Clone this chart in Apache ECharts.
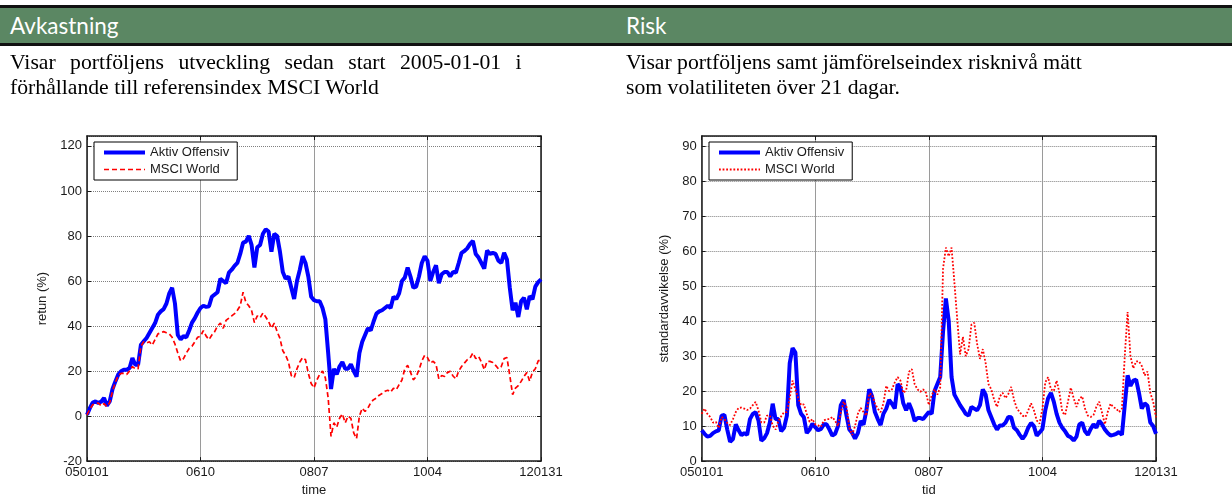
<!DOCTYPE html>
<html>
<head>
<meta charset="utf-8">
<script src="https://cdn.jsdelivr.net/npm/echarts@6/dist/echarts.min.js"></script>
<style>
  html, body { margin: 0; padding: 0; background: #fff; width: 1232px; height: 502px; overflow: hidden; }
  .chart { position: absolute; top: 0; width: 616px; height: 502px; }
  #avk { left: 0; }
  #risk { left: 616px; }
  .rule { position: absolute; left: 0; width: 1232px; background: #111; height: 3px; z-index: 2; }
  #band { position: absolute; left: 0; top: 8px; width: 1232px; height: 35px; background: #5b8763; z-index: 2; }
  .head { position: absolute; top: 8px; height: 35px; line-height: 35px; color: #fff;
          font-family: Lato, "Open Sans", sans-serif; font-size: 22.5px; z-index: 3; }
  .desc { position: absolute; top: 50px; font-family: "Liberation Serif", serif; font-size: 21.7px;
          line-height: 25px; color: #000; z-index: 3; white-space: nowrap; }
  .wide { word-spacing: 9px; }
</style>
</head>
<body>
<div class="rule" style="top:5px"></div>
<div id="band"></div>
<div class="rule" style="top:43px"></div>
<div class="head" style="left:10px">Avkastning</div>
<div class="head" style="left:626px">Risk</div>
<div class="desc" style="left:10px"><span class="wide">Visar portföljens utveckling sedan start 2005-01-01 i</span><br>förhållande till referensindex MSCI World</div>
<div class="desc" style="left:626px">Visar portföljens samt jämförelseindex risknivå mätt<br>som volatiliteten över 21 dagar.</div>
<div id="avk" class="chart"></div>
<div id="risk" class="chart"></div>
<script>
// Date ticks (yymmdd / yymm), evenly spaced over 2005-01-01 .. 2012-01-31
const tickLabels = ['050101', '0610', '0807', '1004', '120131'];
const seriesNames = ['Aktiv Offensiv', 'MSCI World'];

// Cumulative return (%) sampled at 161 evenly spaced dates
const aktivReturn = [
  0.6, 3.5, 6, 6.5, 5.8, 6.4, 8, 4.6, 6.5, 12,
  15.4, 18.4, 19.9, 20.6, 20.6, 21.3, 25.8, 22.8, 22.8, 31.7,
  33.2, 34.7, 36.9, 39.1, 41.3, 45, 46.5, 47.5, 50, 54.5,
  57, 50, 36, 34, 35.5, 35, 38, 41.5, 43.5, 46,
  48, 49, 48.5, 48.8, 53, 54, 55, 61, 60, 59,
  63.7, 65, 66.7, 68, 72, 77, 77.5, 80, 76, 66,
  75, 76, 81, 83, 82, 73, 81, 80, 73, 64,
  61, 62, 57, 52, 60, 65, 71, 68, 62, 53,
  51.5, 51, 51, 48, 43, 28, 12, 21, 18.5, 22,
  24, 21, 21, 23, 20, 17.5, 28, 33, 36, 39,
  38, 42, 45.5, 46.5, 47, 48, 49, 48, 53, 52,
  54.5, 60, 61.5, 66, 62, 57, 57.5, 62, 68, 71,
  69, 60, 64, 67, 59, 63, 64, 64, 62, 64,
  63.7, 68, 72.5, 73.3, 74.5, 76.5, 77.8, 72, 70.4, 68,
  65.5, 73.5, 72, 72.5, 72, 69, 68, 72.5, 69.5, 57,
  47, 50.4, 44, 51, 52.6, 47.4, 53.3, 51.9, 57.5, 59.5,
  60.7
];
const msciReturn = [
  0.5, 3, 5, 5.5, 5.8, 4.5, 5.5, 4.2, 6, 11,
  15, 18, 19, 19, 18.5, 20, 22, 21, 21, 31,
  33, 32.5, 33, 31.5, 34, 36.5, 37, 37.5, 37, 36.5,
  35, 32, 28, 24.5, 25.5, 28, 30, 31, 33, 35,
  35.5, 38, 35.5, 34, 36, 37.5, 40, 41.3, 39, 42.5,
  43.5, 44.5, 45.5, 47, 49, 55, 50.5, 49, 47, 41.5,
  44.5, 43.6, 45.8, 44, 42, 39, 41.3, 37.5, 34.5, 29,
  27, 24, 18, 17, 21, 24, 26, 25, 19, 14.5,
  12.5, 16, 18.5, 20, 17, 8, -9, -3, -5, -1,
  1, -3, 0, -1, -7.5, -10, 0, 3.5, 2, 3.5,
  6, 7.3, 8, 9.3, 10, 11, 11.5, 10.6, 12.4, 11.7,
  14, 16, 21, 22.5, 19.5, 16.1, 17.5, 20.5, 24.5, 27,
  26, 23.6, 24.3, 23, 16.5, 18, 17.6, 19.3, 19.9, 17.8,
  16.5, 20, 22, 23.5, 25, 25.8, 28, 25.5, 26.5, 24,
  20.6, 24.3, 24.3, 23.8, 22.5, 21, 22, 25.5, 26, 18,
  9.5, 12.4, 13.5, 15.4, 17.6, 19.3, 15.5, 19.5, 21, 24.5,
  25
];

// 21-day volatility (%) at the same dates
const aktivRisk = [
  8.8, 7.8, 7, 7.2, 8, 8.5, 8.8, 13, 13.2, 9,
  5.5, 6.3, 10.5, 8.8, 7.4, 8, 7.5, 12, 13.5, 14,
  11.6, 5.8, 6.5, 8, 11, 16.4, 12, 12, 8.5, 9.5,
  13, 28, 32.3, 31, 16, 13.5, 12.5, 8, 9, 10.7,
  9.7, 8.8, 9.2, 10.5, 10.5, 9, 7.3, 7.8, 10, 16,
  17.5, 13, 9, 8, 6.4, 8, 11.5, 10.4, 14.5, 20.5,
  18.5, 14, 12, 10.3, 13.5, 15, 17.5, 16.4, 15, 22,
  21, 16.5, 14.5, 16.5, 14.5, 11.5, 12.3, 12.3, 12, 13,
  14, 13.5, 20, 22, 24, 37, 46.5, 40, 24, 19,
  17.5, 16, 14.8, 13.5, 13, 15.5, 15, 14.5, 16, 20.5,
  19, 14.5, 12.5, 10.5, 9, 10.2, 10.2, 11, 12.6, 12.5,
  9.5, 8.8, 7.5, 6.4, 7.5, 9.5, 10.9, 10, 7.3, 8.2,
  9.2, 14.5, 18, 19.5, 17, 13.5, 11, 9.5, 8.5, 7.2,
  6.8, 5.9, 7, 10.5, 11, 8.5, 7.5, 9.2, 10.5, 9.5,
  11.5, 10.5, 9, 8, 7.3, 7.5, 7.8, 8.3, 7.5, 16,
  24.5, 21.5, 23, 23.3, 19.5, 15, 16.5, 15.8, 11, 10,
  7.8
];
const msciRisk = [
  13.5, 15, 13.5, 12.6, 11, 11.2, 9.5, 12.6, 12, 10.9,
  10.3, 12, 14, 15.2, 15.3, 15, 14.6, 15, 16, 16.9,
  14.5, 11.1, 11, 13, 13, 10.2, 9, 11.5, 12.8, 14,
  14, 18, 23, 20.5, 18, 16, 16.2, 13.5, 11.2, 12,
  10.5, 10.2, 9.8, 11.6, 12, 12, 12.6, 11.5, 10, 14,
  17, 15.5, 9.5, 7.5, 10, 13.5, 15.2, 14, 13, 19.3,
  19, 16.5, 15, 14, 16.5, 21.5, 20, 20.5, 22.5, 24,
  23, 19.5, 20.2, 25.5, 26.3, 22, 20.5, 19.8, 20.5, 19.5,
  16, 18.8, 20.5, 19, 21, 55, 61, 58.5, 61, 51,
  40.5, 30.5, 35.5, 30, 32, 39, 39.5, 33.5, 29.2, 32,
  28, 22, 20.5, 17.5, 15.5, 18.5, 19.5, 18, 19.2, 21.2,
  17.5, 15, 14, 13, 12.6, 14.5, 16.5, 14.5, 11.6, 10.7,
  15, 22.5, 24, 20.5, 20, 23, 19.5, 14, 13.2, 17,
  21, 18, 15.5, 17.8, 18.5, 15, 13, 12.6, 13.2, 15.5,
  17, 13.8, 10.5, 14, 16.4, 15.4, 15, 14, 15, 30,
  42.6, 30, 26.5, 28.5, 28.5, 27.2, 24.5, 25.6, 19.5, 17,
  12.5
];

const AXIS_FONT = '"Liberation Sans", Arial, sans-serif';
const INK = '#1a1a1a';
const LAST = aktivReturn.length - 1;
const STEP = LAST / (tickLabels.length - 1);

function pairs(values) {
  return values.map((v, i) => [i, v]);
}

function frameAxis(extra) {
  return Object.assign({
    type: 'value',
    axisLine: { show: true, onZero: false, lineStyle: { color: INK, width: 1.5 } },
    axisTick: { show: true, inside: true, length: 4, lineStyle: { color: INK, width: 1 } },
    axisLabel: { show: false },
    splitLine: { show: false }
  }, extra);
}

function panel(opts) {
  const xBase = { min: 0, max: LAST, interval: STEP };
  const yBase = { min: opts.yMin, max: opts.yMax, interval: opts.yStep };
  return {
    animation: false,
    textStyle: { fontFamily: AXIS_FONT },
    grid: { left: opts.left, top: 136, width: opts.width, height: 326, show: false },
    legend: {
      left: opts.legendLeft, top: 142, orient: 'vertical',
      backgroundColor: '#fff', borderColor: '#000', borderWidth: 1,
      padding: [4, 8, 4, 8], itemGap: 4, itemWidth: 41, itemHeight: 14,
      itemStyle: { opacity: 0 },
      textStyle: { fontSize: 13, color: INK, fontFamily: AXIS_FONT },
      data: [
        { name: seriesNames[0], lineStyle: { width: 4 } },
        { name: seriesNames[1], lineStyle: { width: opts.bWidth } }
      ]
    },
    xAxis: [
      frameAxis(Object.assign({}, xBase, {
        position: 'bottom',
        name: opts.xName, nameLocation: 'middle', nameGap: 19,
        nameTextStyle: { fontSize: 13, color: INK, fontFamily: AXIS_FONT },
        axisLabel: {
          show: true, margin: 5, fontSize: 13, color: INK, fontFamily: AXIS_FONT,
          formatter: v => tickLabels[Math.round(v / STEP)] || ''
        },
        splitLine: { show: true, lineStyle: { color: '#9a9a9a', width: 1 } }
      })),
      frameAxis(Object.assign({}, xBase, { position: 'top' }))
    ],
    yAxis: [
      frameAxis(Object.assign({}, yBase, {
        position: 'left',
        name: opts.yName, nameLocation: 'middle', nameGap: opts.yNameGap,
        nameTextStyle: { fontSize: 13, color: INK, fontFamily: AXIS_FONT },
        axisLabel: {
          show: true, margin: 5, fontSize: 13, color: INK, fontFamily: AXIS_FONT,
          showMaxLabel: false,
          formatter: v => (Math.abs(v % opts.yStep) < 1e-6 ? String(v) : '')
        },
        splitLine: { show: true, lineStyle: { color: '#808080', width: 1, type: 'dotted' } }
      })),
      frameAxis(Object.assign({}, yBase, { position: 'right' }))
    ],
    series: [
      {
        name: seriesNames[0], type: 'line', xAxisIndex: 0, yAxisIndex: 0,
        showSymbol: false, symbol: 'none',
        lineStyle: { color: '#0000ff', width: 4 },
        itemStyle: { color: '#0000ff' },
        data: pairs(opts.a)
      },
      {
        name: seriesNames[1], type: 'line', xAxisIndex: 0, yAxisIndex: 0,
        showSymbol: false, symbol: 'none',
        lineStyle: { color: '#ff0000', width: opts.bWidth, type: opts.bType },
        itemStyle: { color: '#ff0000' },
        data: pairs(opts.b)
      }
    ]
  };
}

const avkChart = echarts.init(document.getElementById('avk'), null, { renderer: 'canvas' });
avkChart.setOption(panel({
  left: 87, width: 454, legendLeft: 94,
  yMin: -20, yMax: 124.4, yStep: 20,
  xName: 'time', yName: 'retun (%)', yNameGap: 30,
  a: aktivReturn, b: msciReturn, bWidth: 1.7, bType: [5, 3]
}));

const riskChart = echarts.init(document.getElementById('risk'), null, { renderer: 'canvas' });
riskChart.setOption(panel({
  left: 85.7, width: 454.3, legendLeft: 93,
  yMin: 0, yMax: 92.9, yStep: 10,
  xName: 'tid', yName: 'standardavvikelse (%)', yNameGap: 24,
  a: aktivRisk, b: msciRisk, bWidth: 1.8, bType: [1.8, 1.8]
}));
</script>
</body>
</html>
